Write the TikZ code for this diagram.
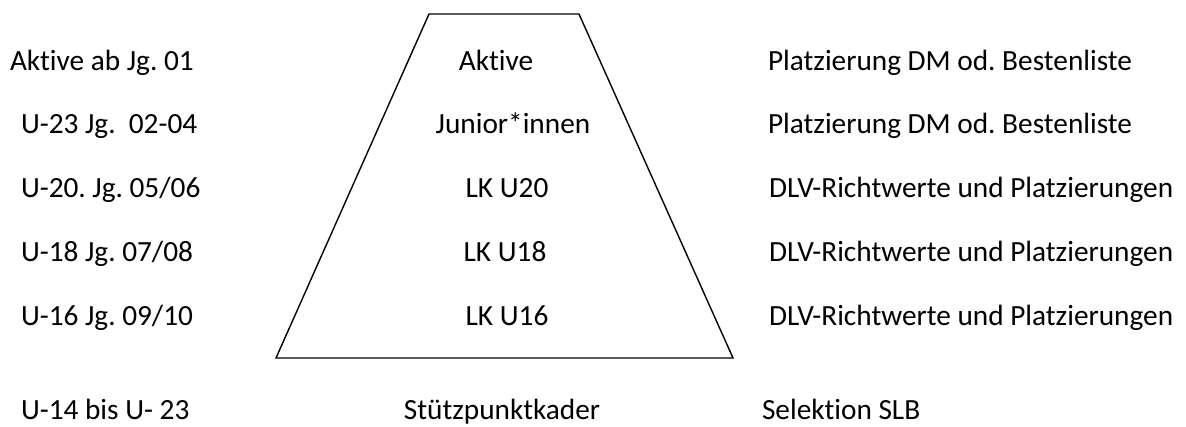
\documentclass[tikz,border=0pt]{standalone}
\usepackage{fontspec}
\setmainfont{Carlito}[Ligatures=NoCommon]
\frenchspacing
\begin{document}
\begin{tikzpicture}[x=1pt,y=-1pt,
  lbl/.style={inner sep=0pt,outer sep=0pt,font=\fontsize{29.3}{34}\selectfont},
  leftlbl/.style={lbl,anchor=base west},
  midlbl/.style={lbl,anchor=base},
  rightlbl/.style={lbl,anchor=base west},
  trap/.style={draw=black,line width=1.4pt,line join=miter}]
\useasboundingbox (0,0) rectangle (1186,426);
% trapezoid
\coordinate (tl) at (429,14);
\coordinate (tr) at (579,14);
\coordinate (br) at (733,358);
\coordinate (bl) at (276,358);
\draw[trap] (tl) -- (tr) -- (br) -- (bl) -- cycle;
% left column
\node[leftlbl] (l1) at (10,70) {Aktive ab Jg. 01};
\node[leftlbl] (l2) at (21,133) {U-23 Jg.\ \ 02-04};
\node[leftlbl] (l3) at (21,197) {U-20. Jg. 05/06};
\node[leftlbl] (l4) at (21,261) {U-18 Jg. 07/08};
\node[leftlbl] (l5) at (21,325) {U-16 Jg. 09/10};
\node[leftlbl] (l6) at (21,419) {U-14 bis U- 23};
% middle column
\node[midlbl] (m1) at (496,70) {Aktive};
\node[midlbl] (m2) at (513,133) {Junior*innen};
\node[midlbl] (m3) at (507,197) {LK U20};
\node[midlbl] (m4) at (505,261) {LK U18};
\node[midlbl] (m5) at (507,325) {LK U16};
\node[midlbl] (m6) at (502,419) {Stützpunktkader};
% right column
\node[rightlbl] (r1) at (768,70) {Platzierung DM od. Bestenliste};
\node[rightlbl] (r2) at (768,133) {Platzierung DM od. Bestenliste};
\node[rightlbl] (r3) at (769,197) {DLV-Richtwerte und Platzierungen};
\node[rightlbl] (r4) at (769,261) {DLV-Richtwerte und Platzierungen};
\node[rightlbl] (r5) at (769,325) {DLV-Richtwerte und Platzierungen};
\node[rightlbl] (r6) at (762,419) {Selektion SLB};
\end{tikzpicture}
\end{document}
